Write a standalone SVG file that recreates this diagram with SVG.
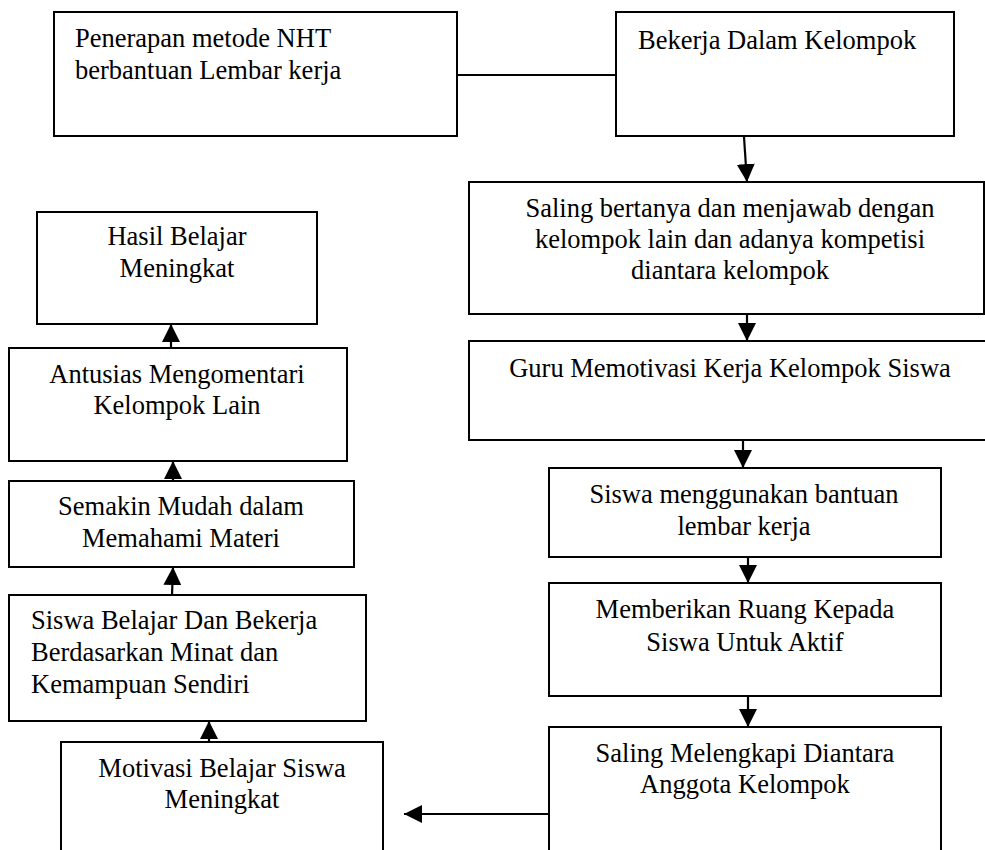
<svg xmlns="http://www.w3.org/2000/svg" width="985" height="850" viewBox="0 0 985 850">
<style>
.box{fill:#fff;stroke:#000;stroke-width:2}
.t{font-family:"Liberation Serif","Times New Roman",serif;font-size:26.5px;fill:#000}
.c{text-anchor:middle}
.ln{stroke:#000;stroke-width:2.2;fill:none}
</style>
<defs>
<marker id="ah" markerUnits="userSpaceOnUse" markerWidth="18" markerHeight="18" viewBox="0 0 16 16" refX="16" refY="8" orient="auto">
<path d="M0,0 L16,8 L0,16 z" fill="#000"/>
</marker>
</defs>
<rect width="985" height="850" fill="#fff"/>
<g id="connectors">
<line class="ln" x1="457" y1="75" x2="616" y2="75"/>
<line class="ln" x1="744" y1="137" x2="747" y2="182" marker-end="url(#ah)"/>
<line class="ln" x1="747" y1="314" x2="747" y2="341" marker-end="url(#ah)"/>
<line class="ln" x1="743" y1="440" x2="743" y2="468" marker-end="url(#ah)"/>
<line class="ln" x1="748" y1="557" x2="748" y2="583" marker-end="url(#ah)"/>
<line class="ln" x1="748" y1="696" x2="748" y2="727" marker-end="url(#ah)"/>
<line class="ln" x1="549" y1="814" x2="404" y2="814" marker-end="url(#ah)"/>
<line class="ln" x1="209" y1="742" x2="209" y2="721" marker-end="url(#ah)"/>
<line class="ln" x1="172" y1="595" x2="173" y2="567" marker-end="url(#ah)"/>
<line class="ln" x1="173" y1="481" x2="173" y2="461" marker-end="url(#ah)"/>
<line class="ln" x1="171" y1="348" x2="171" y2="324" marker-end="url(#ah)"/>
</g>
<g id="n1"><rect class="box" x="54" y="12" width="403" height="124"/>
<text class="t" x="75" y="47">Penerapan metode NHT</text>
<text class="t" x="75" y="79">berbantuan Lembar kerja</text></g>
<g id="n2"><rect class="box" x="616" y="12" width="338" height="124"/>
<text class="t" x="638" y="49">Bekerja Dalam Kelompok</text></g>
<g id="n3"><rect class="box" x="469" y="182" width="515" height="132"/>
<text class="t c" x="730" y="217">Saling bertanya dan menjawab dengan</text>
<text class="t c" x="730" y="248">kelompok lain dan adanya kompetisi</text>
<text class="t c" x="730" y="279">diantara kelompok</text></g>
<g id="n4"><rect class="box" x="469" y="341" width="520" height="99"/>
<text class="t c" x="730" y="377">Guru Memotivasi Kerja Kelompok Siswa</text></g>
<g id="n5"><rect class="box" x="549" y="468" width="392" height="89"/>
<text class="t c" x="744" y="503">Siswa menggunakan bantuan</text>
<text class="t c" x="744" y="535">lembar kerja</text></g>
<g id="n6"><rect class="box" x="549" y="583" width="392" height="113"/>
<text class="t c" x="745" y="618">Memberikan Ruang Kepada</text>
<text class="t c" x="745" y="651">Siswa Untuk Aktif</text></g>
<g id="n7"><rect class="box" x="549" y="727" width="392" height="130"/>
<text class="t c" x="745" y="762">Saling Melengkapi Diantara</text>
<text class="t c" x="745" y="793">Anggota Kelompok</text></g>
<g id="n8"><rect class="box" x="61" y="742" width="322" height="115"/>
<text class="t c" x="222" y="777">Motivasi Belajar Siswa</text>
<text class="t c" x="222" y="808">Meningkat</text></g>
<g id="n9"><rect class="box" x="9" y="595" width="357" height="126"/>
<text class="t" x="31" y="629">Siswa Belajar Dan Bekerja</text>
<text class="t" x="31" y="661">Berdasarkan Minat dan</text>
<text class="t" x="31" y="693">Kemampuan Sendiri</text></g>
<g id="n10"><rect class="box" x="9" y="481" width="345" height="86"/>
<text class="t c" x="181" y="515">Semakin Mudah dalam</text>
<text class="t c" x="181" y="547">Memahami Materi</text></g>
<g id="n11"><rect class="box" x="9" y="348" width="338" height="113"/>
<text class="t c" x="177" y="383">Antusias Mengomentari</text>
<text class="t c" x="177" y="414">Kelompok Lain</text></g>
<g id="n12"><rect class="box" x="37" y="212" width="280" height="112"/>
<text class="t c" x="177" y="245">Hasil Belajar</text>
<text class="t c" x="177" y="277">Meningkat</text></g>
</svg>
